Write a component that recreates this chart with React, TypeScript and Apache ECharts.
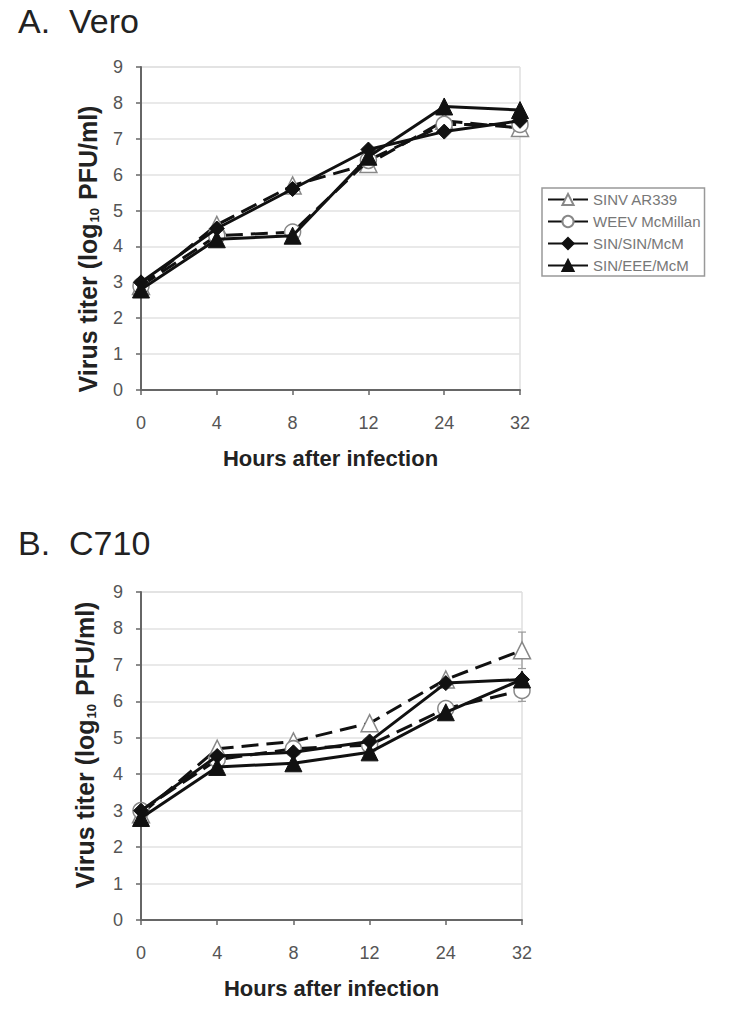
import React, { useEffect, useRef } from "react";
import * as echarts from "echarts";

const hours = ["0", "4", "8", "12", "24", "32"];
const seriesNames = ["SINV AR339", "WEEV McMillan", "SIN/SIN/McM", "SIN/EEE/McM"];
const yTicks = [0, 1, 2, 3, 4, 5, 6, 7, 8, 9];

// Panel A: Vero
const veroSINV = [2.9, 4.6, 5.7, 6.3, 7.5, 7.3];
const veroWEEV = [2.9, 4.3, 4.4, 6.4, 7.4, 7.4];
const veroSINSIN = [3.0, 4.5, 5.6, 6.7, 7.2, 7.5];
const veroSINEEE = [2.8, 4.2, 4.3, 6.5, 7.9, 7.8];

// Panel B: C710
const c710SINV = [2.9, 4.7, 4.9, 5.4, 6.6, 7.4];
const c710WEEV = [3.0, 4.4, 4.7, 4.8, 5.8, 6.3];
const c710SINSIN = [3.0, 4.5, 4.6, 4.9, 6.5, 6.6];
const c710SINEEE = [2.8, 4.2, 4.3, 4.6, 5.7, 6.6];

// error bars: [category index, low, high]
const veroErrors = [[5, 7.1, 7.4]];
const c710Errors = [[5, 6.9, 7.9], [5, 6.0, 6.5]];

const FONT = "Liberation Sans, Arial, Helvetica, sans-serif";

export default function App() {
  const ref = useRef<HTMLDivElement>(null);

  useEffect(() => {
    document.body.style.margin = "0";
    const chart = echarts.init(ref.current!, null, { renderer: "svg" });

    const grids = [
      { left: 141, top: 67, width: 379, height: 323, show: true, borderColor: "#cfcfcf", borderWidth: 1, backgroundColor: "#fff" },
      { left: 141, top: 592, width: 381, height: 328, show: true, borderColor: "#cfcfcf", borderWidth: 1, backgroundColor: "#fff" },
    ];

    const xAxis = [0, 1].map((i) => ({
      type: "category",
      gridIndex: i,
      data: hours,
      boundaryGap: false,
      axisLine: { lineStyle: { color: "#666", width: 2 } },
      axisTick: { show: true, length: 5, lineStyle: { color: "#666", width: 1.5 } },
      axisLabel: { color: "#555", fontSize: 18, margin: 24, fontFamily: FONT },
      splitLine: { show: false },
      name: "Hours after infection",
      nameLocation: "middle",
      nameGap: 57,
      nameTextStyle: { color: "#222", fontSize: 22, fontWeight: "bold", fontFamily: FONT },
    }));

    const yAxis = [0, 1].map((i) => ({
      type: "value",
      gridIndex: i,
      min: yTicks[0],
      max: yTicks[yTicks.length - 1],
      interval: 1,
      axisLine: { show: true, lineStyle: { color: "#666", width: 2 } },
      axisTick: { show: true, length: 5, lineStyle: { color: "#666", width: 1.5 } },
      axisLabel: { color: "#555", fontSize: 18, margin: 18, fontFamily: FONT },
      splitLine: { show: true, lineStyle: { color: "#e2e2e2", width: 1.5 } },
    }));

    const styles = [
      { symbol: "triangle", symbolSize: 17, dashed: true, open: true },
      { symbol: "circle", symbolSize: 16, dashed: true, open: true },
      { symbol: "diamond", symbolSize: 15, dashed: false, open: false },
      { symbol: "triangle", symbolSize: 17, dashed: false, open: false },
    ];

    const makeSeries = (data: number[][], gi: number) =>
      data.map((d, k) => ({
        name: seriesNames[k],
        type: "line",
        xAxisIndex: gi,
        yAxisIndex: gi,
        data: d,
        symbol: styles[k].symbol,
        symbolSize: styles[k].symbolSize,
        showAllSymbol: true,
        lineStyle: { color: "#111", width: 3, type: styles[k].dashed ? [17, 8] : "solid" },
        itemStyle: styles[k].open
          ? { color: "#fff", borderColor: "#888", borderWidth: 1.5 }
          : { color: "#111", borderColor: "#111", borderWidth: 1 },
        z: 3 + k,
      }));

    const errSeries = (errs: number[][], gi: number) => ({
      type: "custom",
      xAxisIndex: gi,
      yAxisIndex: gi,
      data: errs,
      z: 2,
      silent: true,
      renderItem: (params: any, api: any) => {
        const x = api.value(0);
        const lo = api.coord([x, api.value(1)]);
        const hi = api.coord([x, api.value(2)]);
        const cap = 4;
        const st = { stroke: "#999", lineWidth: 1.2 };
        return {
          type: "group",
          children: [
            { type: "line", shape: { x1: lo[0], y1: lo[1], x2: hi[0], y2: hi[1] }, style: st },
            { type: "line", shape: { x1: lo[0] - cap, y1: lo[1], x2: lo[0] + cap, y2: lo[1] }, style: st },
            { type: "line", shape: { x1: hi[0] - cap, y1: hi[1], x2: hi[0] + cap, y2: hi[1] }, style: st },
          ],
        };
      },
    });

    const yName = "{b|Virus titer (log}{s|10}{b| PFU/ml)}";
    const yRich = {
      b: { fontSize: 25, fontWeight: "bold", fill: "#222", fontFamily: FONT },
      s: { fontSize: 13, fontWeight: "bold", fill: "#222", fontFamily: FONT, verticalAlign: "bottom", padding: [9, 1, 0, 1] },
    };

    chart.setOption({
      animation: false,
      backgroundColor: "#fff",
      grid: grids,
      xAxis,
      yAxis,
      legend: {
        show: true,
        orient: "vertical",
        left: 542,
        top: 188,
        data: seriesNames,
        itemWidth: 40,
        itemHeight: 14,
        itemGap: 7,
        padding: [4, 4, 3, 5],
        borderColor: "#999",
        borderWidth: 1.5,
        textStyle: { color: "#777", fontSize: 15, fontFamily: FONT },
        selectedMode: false,
      },
      graphic: [
        { type: "text", left: 18, top: 4, style: { text: "A.  Vero", fontSize: 34, fill: "#222", fontFamily: FONT } },
        { type: "text", left: 18, top: 526, style: { text: "B.  C710", fontSize: 34, fill: "#222", fontFamily: FONT } },
        {
          type: "text",
          x: 88,
          y: 249,
          rotation: Math.PI / 2,
          style: { text: yName, rich: yRich, align: "center", verticalAlign: "middle" },
        },
        {
          type: "text",
          x: 85,
          y: 745,
          rotation: Math.PI / 2,
          style: { text: yName, rich: yRich, align: "center", verticalAlign: "middle" },
        },
      ],
      series: [
        errSeries(veroErrors, 0),
        errSeries(c710Errors, 1),
        ...makeSeries([veroSINV, veroWEEV, veroSINSIN, veroSINEEE], 0),
        ...makeSeries([c710SINV, c710WEEV, c710SINSIN, c710SINEEE], 1),
      ],
    });

    return () => chart.dispose();
  }, []);

  return <div ref={ref} style={{ width: 729, height: 1013 }} />;
}
